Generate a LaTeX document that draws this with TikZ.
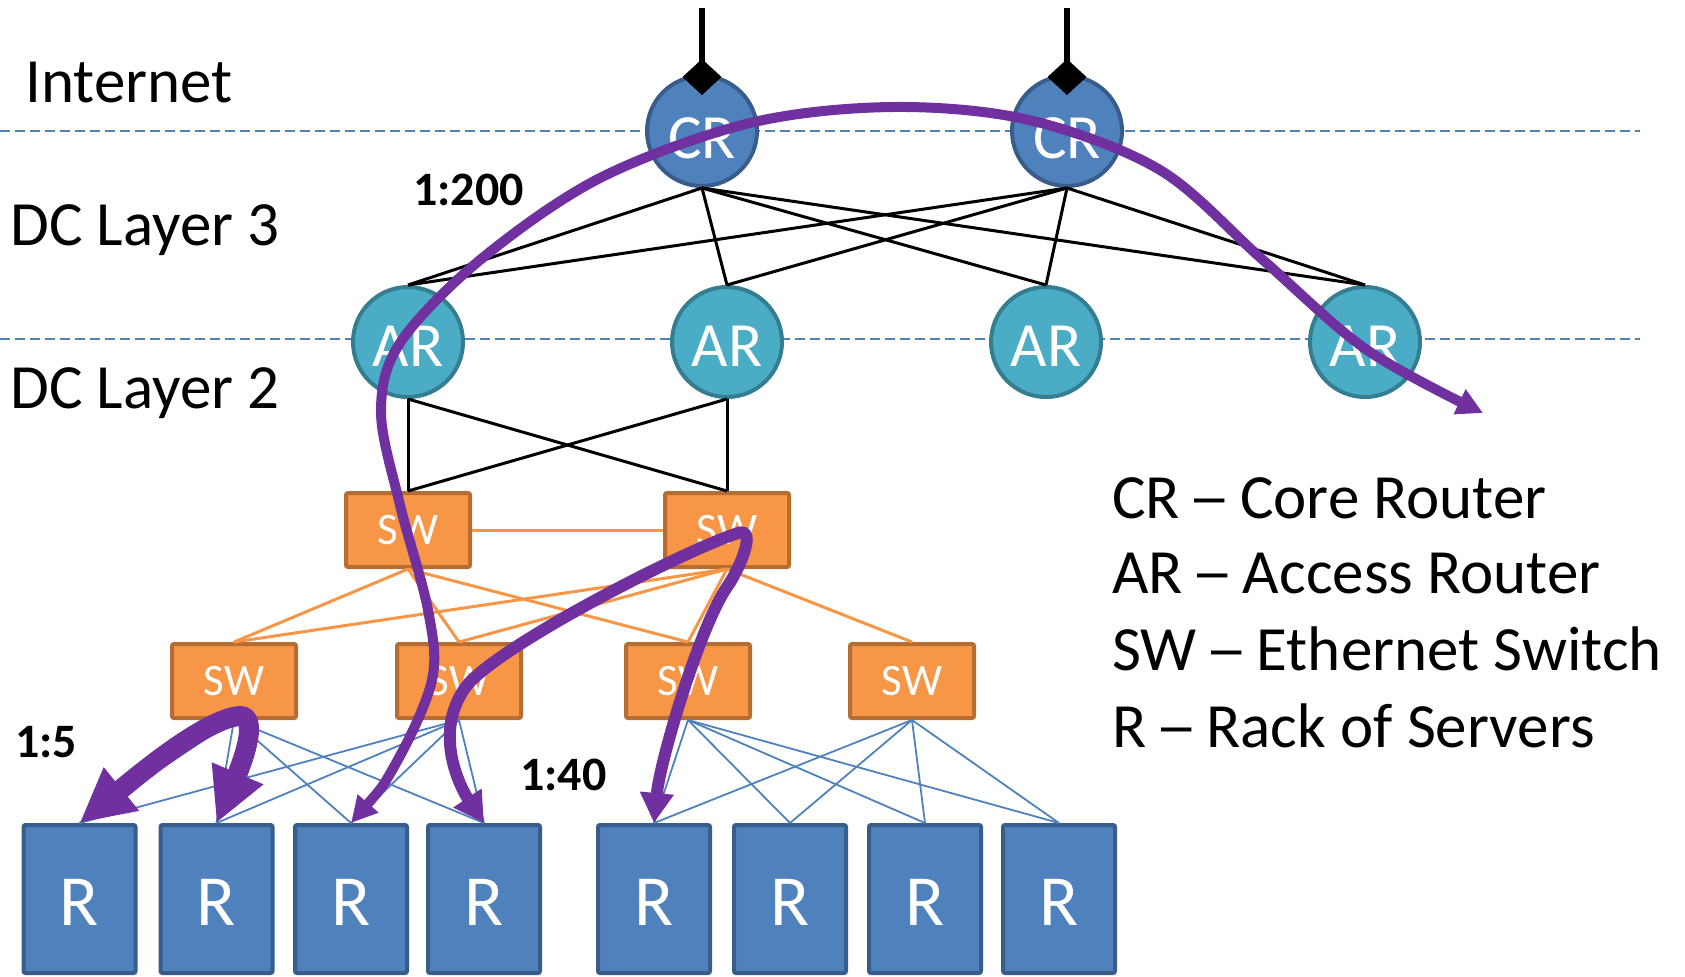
\documentclass[tikz,border=0pt]{standalone}
\usepackage{fontspec}
\usepackage{graphicx}
\setmainfont{Carlito}
\usetikzlibrary{arrows.meta}
\definecolor{crfill}{RGB}{79,129,189}
\definecolor{crdraw}{RGB}{56,93,138}
\definecolor{arfill}{RGB}{75,172,198}
\definecolor{ardraw}{RGB}{53,125,145}
\definecolor{swfill}{RGB}{247,150,70}
\definecolor{swdraw}{RGB}{182,109,49}
\definecolor{flowc}{RGB}{112,48,160}
\definecolor{dashc}{RGB}{79,129,189}
\newsavebox\myDashBox
\newcommand\ldash{\sbox\myDashBox{–}\makebox[\wd\myDashBox]{\scalebox{1.35}[1]{–}}}
\begin{document}
\begin{tikzpicture}[x=0.5pt,y=-0.5pt,
  router/.style={circle, draw, line width=2pt, minimum size=55pt, inner sep=0pt, text=white,
    font=\fontsize{31.5}{36}\selectfont, text depth=0pt},
  crnode/.style={router, fill=crfill, draw=crdraw, text height=27pt},
  arnode/.style={router, fill=arfill, draw=ardraw, text height=24.5pt},
  swnode/.style={rectangle, rounded corners=1pt, fill=swfill, draw=swdraw, line width=2pt,
    minimum width=62pt, minimum height=37pt, inner sep=0pt, text=white, font=\fontsize{22.5}{26}\selectfont},
  rack/.style={rectangle, rounded corners=1pt, fill=crfill, draw=crdraw, line width=2pt,
    minimum width=56pt, minimum height=74pt, inner sep=0pt, text=white,
    font=\fontsize{36}{42}\selectfont, text height=26.2pt, text depth=0pt},
  layerlbl/.style={anchor=base west, font=\fontsize{31.5}{36}\selectfont, inner sep=0pt},
  ratio/.style={anchor=base west, font=\bfseries\fontsize{24}{28}\selectfont, inner sep=0pt},
  legend/.style={anchor=base west, font=\fontsize{31.5}{36}\selectfont, inner sep=0pt},
  corelink/.style={line width=1.5pt, black},
  agglink/.style={line width=1.5pt, swfill},
  torlink/.style={line width=0.9pt, crfill},
  layerline/.style={dashc, line width=1pt, dash pattern=on 5pt off 2.5pt},
  uplink/.style={line width=3.2pt, black, -{Diamond[length=18pt,width=19.5pt]}, shorten >=-10.5pt},
  flowthin/.style={flowc, line width=5pt, >={Triangle[length=13pt,width=13pt]}, <->},
  flowmid/.style={flowc, line width=6pt, >={Triangle[length=15pt,width=16pt]}, <->},
  flowthick/.style={flowc, line width=10pt, >={Triangle[length=27pt,width=26pt]}, <->}
]
\useasboundingbox (0,0) rectangle (1685,976);

% layer separators
\coordinate (d1a) at (0,131); \coordinate (d1b) at (1640,131);
\coordinate (d2a) at (0,339); \coordinate (d2b) at (1640,339);
\draw[layerline] (d1a) -- (d1b);
\draw[layerline] (d2a) -- (d2b);

% nodes
\node[crnode] (CR1) at (702,131) {CR};
\node[crnode] (CR2) at (1067,131) {CR};
\node[arnode] (AR1) at (408,342) {AR};
\node[arnode] (AR2) at (727,342) {AR};
\node[arnode] (AR3) at (1046,342) {AR};
\node[arnode] (AR4) at (1365,342) {AR};
\node[swnode] (SWa1) at (408,530) {SW};
\node[swnode] (SWa2) at (727,530) {SW};
\node[swnode] (SWb1) at (234,681) {SW};
\node[swnode] (SWb2) at (459,681) {SW};
\node[swnode] (SWb3) at (688,681) {SW};
\node[swnode] (SWb4) at (912,681) {SW};
\node[rack] (R1) at (79.5,899) {R};
\node[rack] (R2) at (216.5,899) {R};
\node[rack] (R3) at (351,899) {R};
\node[rack] (R4) at (484,899) {R};
\node[rack] (R5) at (654,899) {R};
\node[rack] (R6) at (790,899) {R};
\node[rack] (R7) at (925,899) {R};
\node[rack] (R8) at (1059,899) {R};

% internet uplinks
\coordinate (in1) at (702,8);
\coordinate (in2) at (1067,8);
\draw[uplink] (in1) -- (CR1.north);
\draw[uplink] (in2) -- (CR2.north);

% links
\foreach \c in {CR1,CR2}
  \foreach \a in {AR1,AR2,AR3,AR4}
    \draw[corelink] (\c.south) -- (\a.north);
\foreach \a in {AR1,AR2}
  \foreach \s in {SWa1,SWa2}
    \draw[corelink] (\a.south) -- (\s.north);
\draw[agglink] (SWa1.east) -- (SWa2.west);
\foreach \s in {SWb1,SWb2,SWb3}
  \draw[agglink] (SWa1.south) -- (\s.north);
\foreach \s in {SWb1,SWb2,SWb3,SWb4}
  \draw[agglink] (SWa2.south) -- (\s.north);
\foreach \s in {SWb1,SWb2}
  \foreach \r in {R1,R2,R3,R4}
    \draw[torlink] (\s.south) -- (\r.north);
\foreach \s in {SWb3,SWb4}
  \foreach \r in {R5,R6,R7,R8}
    \draw[torlink] (\s.south) -- (\r.north);

% texts
\node[layerlbl] (tInternet) at (25,102) {Internet};
\node[layerlbl] (tL3) at (10,245) {DC Layer 3};
\node[layerlbl] (tL2) at (10,408) {DC Layer 2};
\node[ratio] (r200) at (413,205) {1:200};
\node[ratio] (r5) at (15,757) {1:5};
\node[ratio] (r40) at (520,790) {1:40};
\node[legend] (lg1) at (1112,518) {CR \ldash{} Core Router};
\node[legend] (lg2) at (1112,593) {AR \ldash{} Access Router};
\node[legend] (lg3) at (1112,670) {SW \ldash{} Ethernet Switch};
\node[legend] (lg4) at (1112,747) {R \ldash{} Rack of Servers};

% flows
\coordinate (flowend) at (1483,413);
\draw[flowthin] plot[smooth, tension=0.55] coordinates {(R3.north) (395,765) (432,680) (428,610) (400,505) (381,412) (400,343) (480,260) (600,178) (750,123) (893,107) (1029,120) (1160,170) (1263,260) (1367,350) (flowend)};
\draw[flowmid] (R4.north) .. controls (462,790) and (432,735) .. (465,688)
  .. controls (491,650) and (680,552) .. (738,533)
  .. controls (758,527) and (739,570) .. (727,587)
  .. controls (700,626) and (660,760) .. (R5.north);
\draw[flowthick] (R1.north) .. controls (130,782) and (205,718) .. (240,716)
  .. controls (258,716) and (245,756) .. (R2.north);
\end{tikzpicture}
\end{document}
